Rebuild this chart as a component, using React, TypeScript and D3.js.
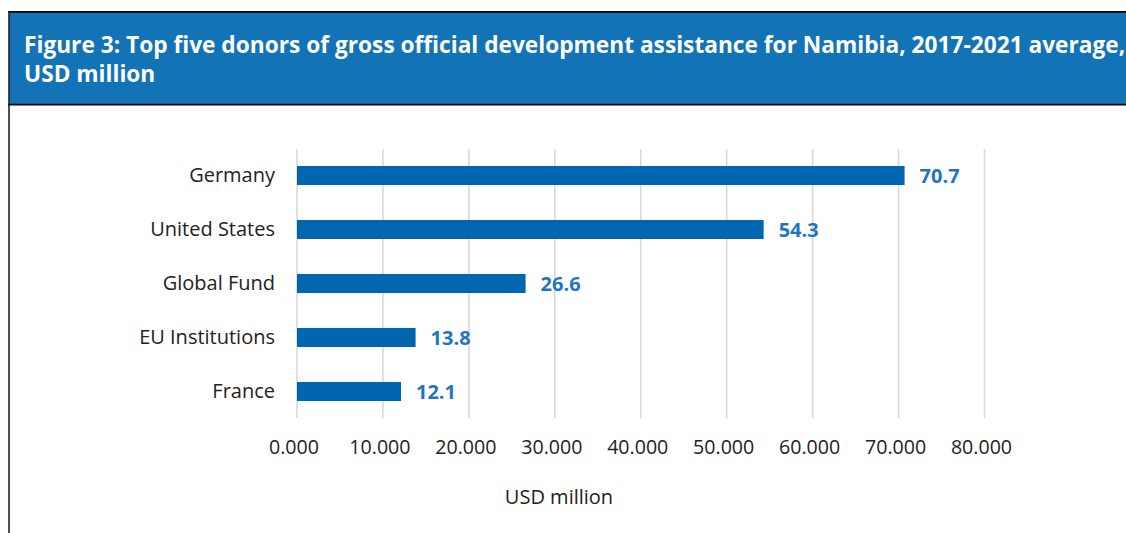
import React from "react";
import * as d3 from "d3";

// Top five donors, 2017-2021 average gross ODA to Namibia (USD million)
const donors = ["Germany", "United States", "Global Fund", "EU Institutions", "France"];
const amounts = [70.7, 54.3, 26.6, 13.8, 12.1];
const xTicks = [0, 10, 20, 30, 40, 50, 60, 70, 80];

const titleLines = [
  "Figure 3: Top five donors of gross official development assistance for Namibia, 2017-2021 average,",
  "USD million",
];
const axisTitle = "USD million";

const W = 1126;
const H = 533;
const FONT = "'Open Sans', 'Noto Sans', sans-serif";

export default function App() {
  const x = d3.scaleLinear().domain([0, 80]).range([297, 984.5]);
  const y = d3
    .scaleBand<string>()
    .domain(donors)
    .range([148.5, 418.5])
    .paddingInner(0.648)
    .paddingOuter(0.324);
  const fmtTick = d3.format(".3f");

  return (
    <svg
      width={W}
      height={H}
      style={{ position: "absolute", left: 0, top: 0, display: "block" }}
      fontFamily={FONT}
    >
      <rect x={0} y={0} width={W} height={H} fill="#ffffff" />

      {/* title banner */}
      <rect x={9} y={12} width={W} height={92.5} fill="#1273b7" />
      <line x1={8} x2={W} y1={11.8} y2={11.8} stroke="#000" strokeWidth={1.8} />
      <line x1={8} x2={W} y1={104.6} y2={104.6} stroke="#000" strokeWidth={1.8} />
      <line x1={9} x2={9} y1={11} y2={H} stroke="#222" strokeWidth={1.6} />
      {titleLines.map((t, i) => (
        <text
          key={i}
          x={24}
          y={53 + i * 29}
          fill="#ffffff"
          fontWeight={700}
          fontSize={22.7}
        >
          {t}
        </text>
      ))}

      {/* vertical gridlines */}
      {xTicks.map((t) => (
        <line
          key={"g" + t}
          x1={x(t)}
          x2={x(t)}
          y1={149}
          y2={418}
          stroke="#d9d9d9"
          strokeWidth={1.6}
        />
      ))}

      {/* bars */}
      {donors.map((d, i) => (
        <rect
          key={d}
          x={x(0)}
          y={y(d)}
          width={x(amounts[i]) - x(0)}
          height={y.bandwidth()}
          fill="#0066b0"
        />
      ))}

      {/* category labels */}
      {donors.map((d) => (
        <text
          key={"c" + d}
          x={275}
          y={(y(d) as number) + y.bandwidth() / 2 + 6.5}
          textAnchor="end"
          fontSize={20}
          fill="#222"
        >
          {d}
        </text>
      ))}

      {/* value labels */}
      {donors.map((d, i) => (
        <text
          key={"v" + d}
          x={x(amounts[i]) + 15}
          y={(y(d) as number) + y.bandwidth() / 2 + 7.5}
          fontSize={20}
          fontWeight={700}
          fill="#1f75c1"
        >
          {amounts[i].toFixed(1)}
        </text>
      ))}

      {/* x tick labels */}
      {xTicks.map((t) => (
        <text
          key={"t" + t}
          x={x(t) - 3}
          y={454}
          textAnchor="middle"
          fontSize={19.6}
          fill="#222"
        >
          {fmtTick(t)}
        </text>
      ))}

      <text x={559} y={504} textAnchor="middle" fontSize={20} fill="#222">
        {axisTitle}
      </text>
    </svg>
  );
}
